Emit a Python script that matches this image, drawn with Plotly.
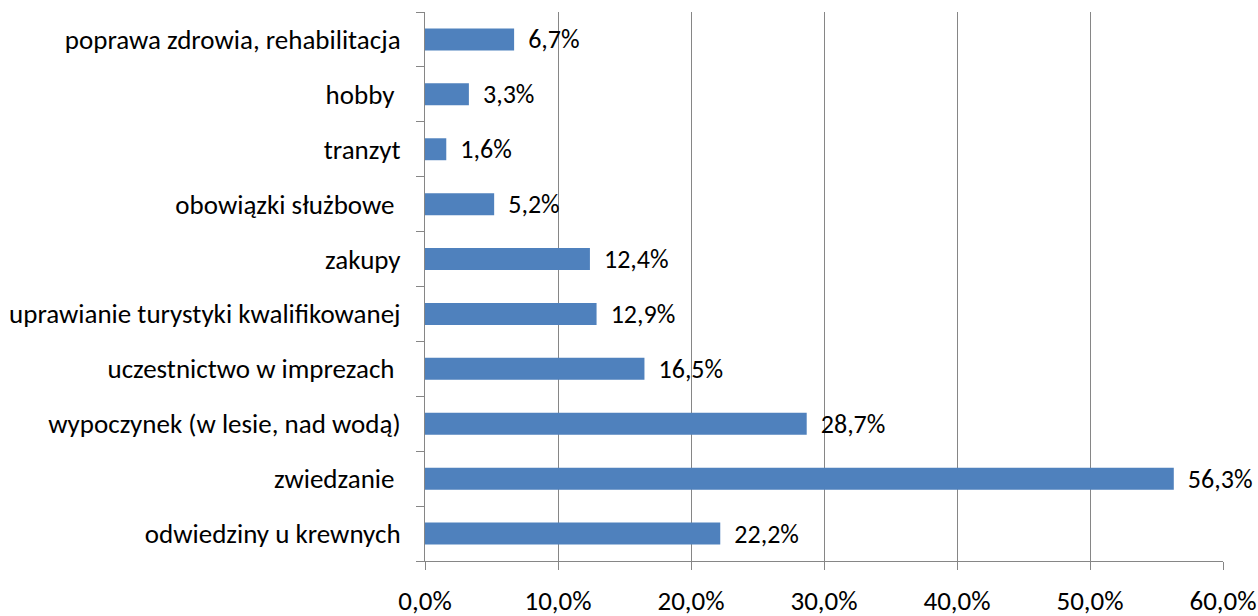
import plotly.graph_objects as go

categories = [
    "odwiedziny u krewnych",
    "zwiedzanie ",
    "wypoczynek (w lesie, nad wodą)",
    "uczestnictwo w imprezach ",
    "uprawianie turystyki kwalifikowanej",
    "zakupy",
    "obowiązki służbowe ",
    "tranzyt",
    "hobby ",
    "poprawa zdrowia, rehabilitacja",
]
values = [22.2, 56.3, 28.7, 16.5, 12.9, 12.4, 5.2, 1.6, 3.3, 6.7]
value_labels = ["22,2%", "56,3%", "28,7%", "16,5%", "12,9%", "12,4%", "5,2%", "1,6%", "3,3%", "6,7%"]
tick_values = [0, 10, 20, 30, 40, 50, 60]
tick_labels = ["0,0%", "10,0%", "20,0%", "30,0%", "40,0%", "50,0%", "60,0%"]

FONT = "Carlito, Calibri, Lato, sans-serif"
FS = 27

fig = go.Figure(
    go.Bar(
        x=values,
        y=categories,
        orientation="h",
        marker=dict(color="#4F81BD", line=dict(width=0)),
        text=[" \u2009" + t for t in value_labels],
        textposition="outside",
        constraintext="none",
        textfont=dict(family=FONT, size=26, color="#000000"),
        cliponaxis=False,
        hoverinfo="skip",
    )
)

fig.update_layout(
    width=1258,
    height=616,
    margin=dict(l=425, r=35, t=12, b=55),
    paper_bgcolor="white",
    plot_bgcolor="white",
    bargap=0.6,
    showlegend=False,
    font=dict(family=FONT, size=FS, color="#000000"),
)
fig.update_xaxes(
    range=[0, 60],
    tickvals=tick_values,
    ticktext=tick_labels,
    showgrid=True,
    gridcolor="#868686",
    gridwidth=1,
    zeroline=False,
    showline=True,
    linecolor="#868686",
    linewidth=1,
    ticks="outside",
    ticklen=8,
    tickcolor="#868686",
    tickfont=dict(family=FONT, size=FS, color="#000000"),
    ticklabelstandoff=8,
    automargin=False,
    fixedrange=True,
)
fig.update_yaxes(
    categoryorder="array",
    categoryarray=categories,
    showline=True,
    linecolor="#868686",
    linewidth=1,
    ticks="outside",
    tickson="boundaries",
    ticklen=8,
    tickcolor="#868686",
    showgrid=False,
    tickfont=dict(family=FONT, size=FS, color="#000000"),
    ticklabelstandoff=18,
    automargin=False,
    fixedrange=True,
)

fig.write_html(
    "out.html",
    config={"displayModeBar": False},
    post_script="document.body.style.margin='0';document.body.style.overflow='hidden';",
)
